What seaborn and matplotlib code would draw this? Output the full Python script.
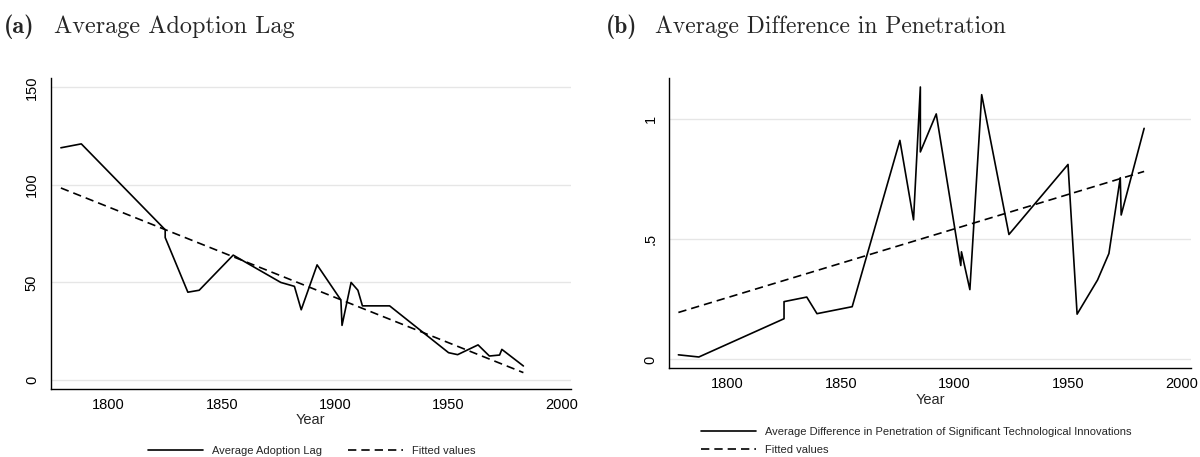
import numpy as np
import pandas as pd
import matplotlib
matplotlib.use("Agg")
import matplotlib.pyplot as plt
import seaborn as sns

# panel (a): average adoption lag by year
lag_years = [1779, 1788, 1825, 1825, 1835, 1840, 1855, 1876, 1882, 1885, 1892,
             1902.5, 1903, 1907, 1910, 1912, 1924, 1950, 1954, 1963, 1968,
             1972.5, 1973.5, 1983]
lag_values = [119, 121, 77, 73, 45, 46, 64, 50, 48, 36, 59,
              41, 28, 50, 46, 38, 38, 14, 13, 18, 12.3,
              12.8, 15.7, 7.2]
lag_fit_years = [1779, 1983]
lag_fit_values = [98.4, 3.8]

# panel (b): average difference in penetration by year
pen_years = [1778.5, 1787.5, 1825, 1825, 1835, 1839.5, 1855, 1876, 1882, 1885,
             1885, 1892, 1902.8, 1903.1, 1906.8, 1912, 1924, 1950, 1954, 1963,
             1968, 1973, 1973.4, 1983.5]
pen_values = [0.019, 0.010, 0.169, 0.240, 0.259, 0.190, 0.219, 0.910, 0.580, 1.132,
              0.862, 1.020, 0.390, 0.447, 0.290, 1.100, 0.519, 0.810, 0.188, 0.330,
              0.440, 0.755, 0.600, 0.960]
pen_fit_years = [1778.5, 1983.5]
pen_fit_values = [0.195, 0.781]

lag_ticks = [0, 50, 100, 150]
lag_ticklabels = ["0", "50", "100", "150"]
pen_ticks = [0, 0.5, 1]
pen_ticklabels = ["0", ".5", "1"]
year_ticks = [1800, 1850, 1900, 1950, 2000]

sns.set_style("white")
plt.rcParams['font.family'] = ['Liberation Sans', 'DejaVu Sans']

W, H = 1200, 457
fig = plt.figure(figsize=(12, 4.57), dpi=100)


def box(x0, top, x1, bottom):
    return [x0 / W, 1 - bottom / H, (x1 - x0) / W, (bottom - top) / H]


def style_axes(ax, yticks, yticklabels, ylim):
    ax.set_xlim(1774.5, 2004)
    ax.set_ylim(*ylim)
    ax.set_xticks(year_ticks)
    ax.set_xticklabels([str(y) for y in year_ticks])
    ax.set_yticks(yticks)
    ax.set_yticklabels(yticklabels, rotation=90, va='center')
    ax.grid(axis='y', color='#e6e6e6', lw=1.0)
    ax.grid(axis='x', visible=False)
    ax.set_axisbelow(True)
    for s in ['top', 'right']:
        ax.spines[s].set_visible(False)
    for s in ['left', 'bottom']:
        ax.spines[s].set_color('black')
        ax.spines[s].set_linewidth(1.0)
    ax.tick_params(axis='both', direction='out', length=4.5, width=0.9,
                   color='black', labelsize=10.5, labelcolor='black')
    ax.tick_params(axis='x', pad=2)
    ax.tick_params(axis='y', pad=4)
    ax.set_xlabel("Year", fontsize=10.5, labelpad=1)
    ax.set_ylabel("")


# --- (a)
ax1 = fig.add_axes(box(50.7, 78.3, 571, 389))
df_lag = pd.DataFrame({"year": lag_years, "lag": lag_values})
sns.lineplot(data=df_lag, x="year", y="lag", estimator=None, sort=False,
             color='black', lw=1.2, ax=ax1, label="Average Adoption Lag")
sns.lineplot(x=lag_fit_years, y=lag_fit_values, color='black', lw=1.2,
             ax=ax1, label="Fitted values", linestyle=(0, (5, 3)))
style_axes(ax1, lag_ticks, lag_ticklabels, (-4.6, 154.6))
h1, l1 = ax1.get_legend_handles_labels()
ax1.get_legend().remove()
fig.legend(h1, l1, loc='center', bbox_to_anchor=(311.5 / W, 1 - 451 / H),
           ncol=2, frameon=False, fontsize=8, handlelength=5.0,
           handletextpad=0.8, columnspacing=2.3, borderpad=0, borderaxespad=0)

# --- (b)
ax2 = fig.add_axes(box(669.3, 78.3, 1190.7, 368.3))
df_pen = pd.DataFrame({"year": pen_years, "pen": pen_values})
sns.lineplot(data=df_pen, x="year", y="pen", estimator=None, sort=False,
             color='black', lw=1.2, ax=ax2,
             label="Average Difference in Penetration of Significant Technological Innovations")
sns.lineplot(x=pen_fit_years, y=pen_fit_values, color='black', lw=1.2,
             ax=ax2, label="Fitted values", linestyle=(0, (5, 3)))
style_axes(ax2, pen_ticks, pen_ticklabels, (-0.037, 1.168))
h2, l2 = ax2.get_legend_handles_labels()
ax2.get_legend().remove()
fig.legend(h2, l2, loc='center left', bbox_to_anchor=(700.8 / W, 1 - 441 / H),
           ncol=1, frameon=False, fontsize=8, handlelength=5.0,
           handletextpad=0.8, labelspacing=0.75, borderpad=0, borderaxespad=0)

# --- panel titles
ty = 1 - 27 / H
fig.text(4 / W, ty, "(a)", family='cmb10', fontsize=17.5, va='center')
fig.text(54 / W, ty, "Average Adoption Lag", family='cmr10', fontsize=17.5, va='center')
fig.text(606 / W, ty, "(b)", family='cmb10', fontsize=17, va='center')
fig.text(655 / W, ty, "Average Difference in Penetration", family='cmr10', fontsize=17, va='center')

fig.savefig("out.png", dpi=100)
